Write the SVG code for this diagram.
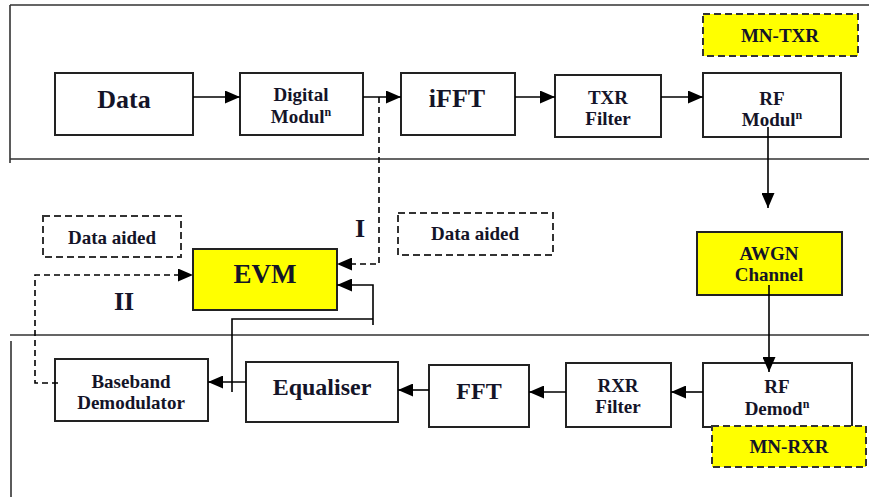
<svg xmlns="http://www.w3.org/2000/svg" width="869" height="497" viewBox="0 0 869 497" font-family="'Liberation Serif', 'DejaVu Serif', serif">
<defs>
<marker id="ah" markerUnits="userSpaceOnUse" markerWidth="15" markerHeight="13" refX="15" refY="6.5" orient="auto">
<path d="M0,0 L15,6.5 L0,13 z" fill="#000"/>
</marker>
<style>
.box{fill:#fff;stroke:#222;stroke-width:2}
.ybox{fill:#ffff00;stroke:#222;stroke-width:2}
.ydash{fill:#ffff00;stroke:#333;stroke-width:2;stroke-dasharray:7,4}
.dbox{fill:none;stroke:#333;stroke-width:2;stroke-dasharray:7,4}
.frame{stroke:#333;stroke-width:1.6;fill:none}
.c{fill:none;stroke:#000;stroke-width:1.6}
.cd{fill:none;stroke:#000;stroke-width:1.6;stroke-dasharray:6,4}
text{font-family:'Liberation Serif','DejaVu Serif',serif;font-weight:bold;fill:#141428;text-anchor:middle}
.big{font-size:26px}
.mid{font-size:19px}
.sup{font-size:12px}
</style>
</defs>
<g id="frames">
<path class="frame" d="M10,5 H869 M10,5 V163 M10,159 H869 M10,335 H869 M11,341 V497"/>
</g>
<g id="data"><rect class="box" x="55" y="73" width="138" height="62"/><text class="big" x="124" y="108">Data</text></g>
<g id="digmod"><rect class="box" x="240" y="73" width="123" height="62"/><text class="mid" x="301" y="101">Digital</text><text class="mid" x="301" y="123">Modul<tspan class="sup" dy="-7">n</tspan></text></g>
<g id="ifft"><rect class="box" x="401" y="73" width="114" height="62"/><text class="big" x="457" y="107">iFFT</text></g>
<g id="txrfilter"><rect class="box" x="555" y="75" width="106" height="62"/><text class="mid" x="608" y="104">TXR</text><text class="mid" x="608" y="125">Filter</text></g>
<g id="rfmod"><rect class="box" x="703" y="73" width="138" height="64"/><text class="mid" x="772" y="105">RF</text><text class="mid" x="772" y="126">Modul<tspan class="sup" dy="-7">n</tspan></text></g>
<g id="mntxr"><rect class="ydash" x="703" y="14" width="155" height="42"/><text class="mid" x="780" y="42">MN-TXR</text></g>
<g id="awgn"><rect class="ybox" x="697" y="232" width="145" height="63"/><text class="mid" x="769" y="260">AWGN</text><text class="mid" x="769" y="281">Channel</text></g>
<g id="evm"><rect class="ybox" x="193" y="249" width="144" height="61"/><text style="font-size:27px" x="265" y="283">EVM</text></g>
<g id="dataaided1"><rect class="dbox" x="43" y="216" width="138" height="41"/><text class="mid" x="112" y="244">Data aided</text></g>
<g id="dataaided2"><rect class="dbox" x="398" y="213" width="155" height="42"/><text class="mid" x="475" y="240">Data aided</text></g>
<g id="labelI"><text class="big" x="360" y="237">I</text></g>
<g id="labelII"><text class="big" x="124" y="310">II</text></g>
<g id="baseband"><rect class="box" x="55" y="359" width="153" height="62"/><text class="mid" x="131" y="388">Baseband</text><text class="mid" x="131" y="409">Demodulator</text></g>
<g id="equaliser"><rect class="box" x="246" y="362" width="152" height="60"/><text style="font-size:24px" x="322" y="395">Equaliser</text></g>
<g id="fft"><rect class="box" x="429" y="365" width="100" height="62"/><text style="font-size:24px" x="479" y="399">FFT</text></g>
<g id="rxrfilter"><rect class="box" x="566" y="363" width="105" height="64"/><text class="mid" x="618" y="392">RXR</text><text class="mid" x="618" y="413">Filter</text></g>
<g id="rfdemod"><rect class="box" x="703" y="363" width="149" height="64"/><text class="mid" x="777" y="393">RF</text><text class="mid" x="777" y="415">Demod<tspan class="sup" dy="-7">n</tspan></text></g>
<g id="mnrxr"><rect class="ydash" x="712" y="426" width="154" height="41"/><text class="mid" x="789" y="453">MN-RXR</text></g>
<g id="connectors">
<path class="c" d="M193,97 H240" marker-end="url(#ah)"/>
<path class="c" d="M363,97 H401" marker-end="url(#ah)"/>
<path class="c" d="M515,97 H555" marker-end="url(#ah)"/>
<path class="c" d="M661,97 H703" marker-end="url(#ah)"/>
<path class="c" d="M768,127 V208" marker-end="url(#ah)"/>
<path class="c" d="M769,285 V372" marker-end="url(#ah)"/>
<path class="c" d="M703,392 H671" marker-end="url(#ah)"/>
<path class="c" d="M566,392 H529" marker-end="url(#ah)"/>
<path class="c" d="M429,390 H398" marker-end="url(#ah)"/>
<path class="c" d="M246,382 H208" marker-end="url(#ah)"/>
<path class="c" d="M232,392 V319 H373"/>
<path class="c" d="M373,325 V285 H337" marker-end="url(#ah)"/>
<path class="cd" d="M379,97 V264 H337" marker-end="url(#ah)"/>
<path class="cd" d="M58,383 H35 V275 H193" marker-end="url(#ah)"/>
</g>
</svg>
